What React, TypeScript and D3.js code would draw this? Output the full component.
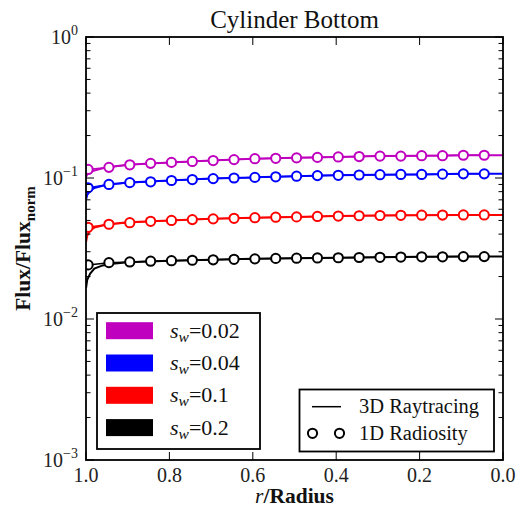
import React from "react";
import * as d3 from "d3";

const seriesNames = ["0.02", "0.04", "0.1", "0.2"];
const seriesColors = ["#bf00bf", "#0000ff", "#ff0000", "#000000"];

// 3D raytracing (lines)
const rayR = [1.0, 0.997, 0.99, 0.98, 0.96, 0.93, 0.9, 0.8, 0.7, 0.6, 0.5, 0.4, 0.3, 0.2, 0.1, 0.0];
const rayMagenta = [0.102, 0.106, 0.110, 0.113, 0.117, 0.121, 0.124, 0.129, 0.133, 0.137, 0.139, 0.141, 0.143, 0.144, 0.145, 0.145];
const rayBlue = [0.070, 0.076, 0.081, 0.085, 0.088, 0.091, 0.093, 0.096, 0.099, 0.101, 0.103, 0.1045, 0.1055, 0.106, 0.107, 0.107];
const rayRed = [0.035, 0.039, 0.0425, 0.0445, 0.046, 0.0475, 0.0485, 0.050, 0.0513, 0.0523, 0.053, 0.0537, 0.0542, 0.0545, 0.0547, 0.0547];
const rayBlack = [0.0165, 0.019, 0.021, 0.0228, 0.024, 0.0248, 0.0253, 0.0259, 0.0263, 0.0267, 0.027, 0.0272, 0.0274, 0.0276, 0.0277, 0.0277];

// 1D radiosity (markers)
const radR = [0.995, 0.945, 0.895, 0.845, 0.795, 0.745, 0.695, 0.645, 0.595, 0.545, 0.495, 0.445, 0.395, 0.345, 0.295, 0.245, 0.195, 0.145, 0.095, 0.045];
const radMagenta = [0.115, 0.119, 0.124, 0.127, 0.129, 0.131, 0.133, 0.135, 0.137, 0.138, 0.139, 0.140, 0.141, 0.142, 0.143, 0.143, 0.144, 0.144, 0.145, 0.145];
const radBlue = [0.0853, 0.090, 0.0927, 0.094, 0.096, 0.0975, 0.099, 0.100, 0.101, 0.102, 0.103, 0.104, 0.1045, 0.105, 0.1055, 0.106, 0.106, 0.1065, 0.107, 0.107];
const radRed = [0.0447, 0.047, 0.0482, 0.0493, 0.050, 0.0507, 0.0513, 0.0518, 0.0523, 0.0527, 0.053, 0.0534, 0.0537, 0.054, 0.0542, 0.0544, 0.0545, 0.0546, 0.0547, 0.0547];
const radBlack = [0.0242, 0.0251, 0.0254, 0.0257, 0.0259, 0.0261, 0.0263, 0.0265, 0.0267, 0.0269, 0.027, 0.0271, 0.0272, 0.0273, 0.0274, 0.0275, 0.0276, 0.0276, 0.0277, 0.0277];

const xTicks = [1.0, 0.8, 0.6, 0.4, 0.2, 0.0];
const yTickExps = [0, -1, -2, -3];

const rayData = [rayMagenta, rayBlue, rayRed, rayBlack];
const radData = [radMagenta, radBlue, radRed, radBlack];

const L = 86, R = 503, T = 37, B = 460;
const FONT = "'Liberation Serif', 'Times New Roman', serif";

export default function App() {
  const x = d3.scaleLinear().domain([1, 0]).range([L, R]);
  const y = d3.scaleLog().domain([1e-3, 1]).range([B, T]);
  const line = d3
    .line<[number, number]>()
    .x((d) => x(d[0]))
    .y((d) => y(d[1]));

  const minorTicks: number[] = [];
  for (let e = -3; e < 0; e++) {
    for (let k = 2; k <= 9; k++) minorTicks.push(k * Math.pow(10, e));
  }

  return (
    <svg
      width={516}
      height={510}
      style={{ position: "absolute", left: 0, top: 0, background: "#fff" }}
      fontFamily={FONT}
    >
      <defs>
        <clipPath id="plotclip">
          <rect x={L} y={T} width={R - L} height={B - T} />
        </clipPath>
      </defs>
      <rect x={0} y={0} width={516} height={510} fill="#fff" />

      {/* title */}
      <text x={(L + R) / 2} y={28} textAnchor="middle" fontSize={25} fill="#111">
        Cylinder Bottom
      </text>

      {/* data */}
      <g clipPath="url(#plotclip)">
        {rayData.map((vals, i) => (
          <path
            key={"l" + i}
            d={line(rayR.map((r, j) => [r, vals[j]] as [number, number])) || ""}
            fill="none"
            stroke={seriesColors[i]}
            strokeWidth={2}
          />
        ))}
        {radData.map((vals, i) => (
          <g key={"m" + i}>
            <path
              d={line(radR.map((r, j) => [r, vals[j]] as [number, number])) || ""}
              fill="none"
              stroke={seriesColors[i]}
              strokeWidth={1.5}
            />
            {radR.map((r, j) => (
              <circle
                key={j}
                cx={x(r)}
                cy={y(vals[j])}
                r={4.6}
                fill="#fff"
                stroke={seriesColors[i]}
                strokeWidth={2}
              />
            ))}
          </g>
        ))}
      </g>

      {/* frame */}
      <rect x={L} y={T} width={R - L} height={B - T} fill="none" stroke="#000" strokeWidth={1.8} />

      {/* x ticks */}
      {xTicks.map((t) => (
        <g key={"x" + t}>
          <line x1={x(t)} x2={x(t)} y1={B} y2={B - 8} stroke="#000" strokeWidth={1} />
          <line x1={x(t)} x2={x(t)} y1={T} y2={T + 8} stroke="#000" strokeWidth={1} />
          <text x={x(t)} y={481.5} textAnchor="middle" fontSize={20} fill="#222">
            {t.toFixed(1)}
          </text>
        </g>
      ))}

      {/* y ticks */}
      {yTickExps.map((e) => (
        <g key={"y" + e}>
          <line x1={L} x2={L + 8} y1={y(Math.pow(10, e))} y2={y(Math.pow(10, e))} stroke="#000" strokeWidth={1} />
          <line x1={R} x2={R - 8} y1={y(Math.pow(10, e))} y2={y(Math.pow(10, e))} stroke="#000" strokeWidth={1} />
          <text x={78} y={y(Math.pow(10, e)) + 7} textAnchor="end" fontSize={20} fill="#222">
            10
            <tspan dy={-9} fontSize={14}>
              {e === 0 ? "0" : "\u2212" + Math.abs(e)}
            </tspan>
          </text>
        </g>
      ))}
      {minorTicks.map((v, i) => (
        <g key={"mn" + i}>
          <line x1={L} x2={L + 4.5} y1={y(v)} y2={y(v)} stroke="#000" strokeWidth={1} />
          <line x1={R} x2={R - 4.5} y1={y(v)} y2={y(v)} stroke="#000" strokeWidth={1} />
        </g>
      ))}

      {/* axis labels */}
      <text
        transform={`translate(30,${(T + B) / 2}) rotate(-90)`}
        textAnchor="middle"
        fontSize={21.5}
        fontWeight="bold"
        fill="#111"
      >
        Flux/Flux
        <tspan dy={5} fontSize={15}>norm</tspan>
      </text>
      <text x={(L + R) / 2} y={503} textAnchor="middle" fontSize={21.5} fill="#111">
        <tspan fontStyle="italic">r</tspan>
        <tspan fontWeight="bold">/Radius</tspan>
      </text>

      {/* legend 1 */}
      <rect x={97} y={313} width={163} height={136} fill="#fff" stroke="#000" strokeWidth={1.8} />
      {seriesNames.map((n, i) => {
        const cy = 330.7 + i * 32.3;
        return (
          <g key={"lg" + i}>
            <rect x={106} y={cy - 8.5} width={47} height={17} fill={seriesColors[i]} />
            <text x={170} y={cy + 7} fontSize={22} fill="#111">
              <tspan fontStyle="italic">s</tspan>
              <tspan fontStyle="italic" fontSize={15.5} dy={4}>w</tspan>
              <tspan dy={-4}>={n}</tspan>
            </text>
          </g>
        );
      })}

      {/* legend 2 */}
      <rect x={299.5} y={389.5} width={194.5} height={62} fill="#fff" stroke="#000" strokeWidth={1.8} />
      <line x1={312} x2={341} y1={406.7} y2={406.7} stroke="#000" strokeWidth={1.5} />
      <text x={359} y={413} fontSize={20.5} fill="#111">3D Raytracing</text>
      <circle cx={312.5} cy={433.3} r={4.6} fill="#fff" stroke="#000" strokeWidth={2} />
      <circle cx={339.5} cy={433.3} r={4.6} fill="#fff" stroke="#000" strokeWidth={2} />
      <text x={359} y={440} fontSize={20.5} fill="#111">1D Radiosity</text>
    </svg>
  );
}
